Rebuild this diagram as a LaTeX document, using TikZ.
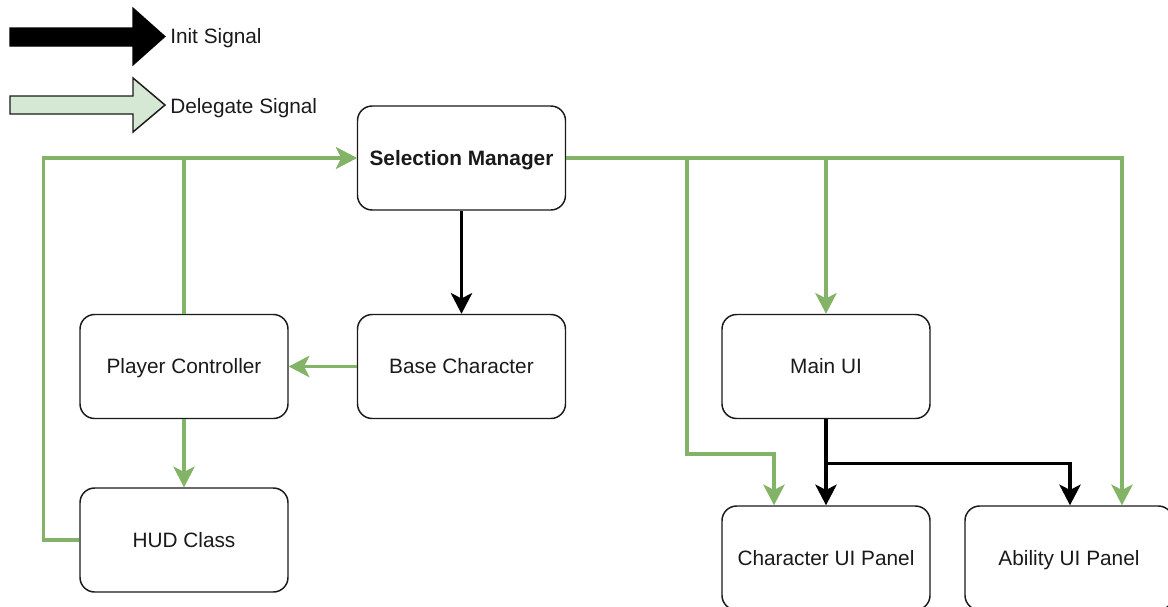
\documentclass[tikz,border=0pt]{standalone}
\usepackage{fontspec}
\setmainfont{Liberation Sans}
\usetikzlibrary{arrows.meta,calc}
\definecolor{delegate}{HTML}{82B366}
\definecolor{delegatefill}{HTML}{D5E8D4}
\definecolor{ink}{HTML}{1A1A1A}
\tikzset{
  block/.style={draw=ink, line width=1.1pt, rounded corners=11pt, fill=white,
    minimum width=156pt, minimum height=78pt, inner sep=0pt, text=ink,
    text height=11.2pt, text depth=0.3pt,
    font=\fontsize{15.6}{18}\selectfont},
  tip/.style={-{Stealth[length=15.5pt, width=16pt, inset=4pt]}},
  delegateline/.style={draw=delegate, line width=2.5pt},
  initline/.style={draw=black, line width=2.4pt},
  legendlabel/.style={anchor=west, inner sep=0pt, text=ink,
    text height=11.2pt, text depth=0.3pt,
    font=\fontsize{15.6}{18}\selectfont}
}
\begin{document}
\begin{tikzpicture}[x=0.75pt, y=-0.75pt]
\useasboundingbox (0,0) rectangle (1168,607);
\clip (0,0) rectangle (1168,607);

% legend
\draw[fill=black, draw=black, line width=0.8pt]
  (10,28) -- (133,28) -- (133,8) -- (165,36.5) -- (133,65) -- (133,46) -- (10,46) -- cycle;
\node[legendlabel] (initlbl) at (170,36) {Init Signal};
\draw[fill=delegatefill, draw=ink, line width=1.1pt]
  (10,96) -- (133,96) -- (133,78) -- (165,105) -- (133,132) -- (133,114) -- (10,114) -- cycle;
\node[legendlabel] (dellbl) at (170,106) {Delegate Signal};

% components
\node[block, font=\fontsize{15.6}{18}\selectfont\bfseries] (sm) at (461.5,158) {Selection Manager};
\node[block] (bc) at (461.5,366.5) {Base Character};
\node[block] (pc) at (184,366.5) {Player Controller};
\node[block] (hud) at (184,540) {HUD Class};
\node[block] (mu) at (826,366.5) {Main UI};
\node[block] (cp) at (826,558) {Character UI Panel};
\node[block] (ap) at (1069,558) {Ability UI Panel};

% delegate signals
\draw[delegateline, tip] (hud.west) -- ++(-36,0) |- (sm.west);
\draw[delegateline, tip] (pc.north) |- (sm.west);
\draw[delegateline, tip] (bc.west) -- (pc.east);
\draw[delegateline, tip] (pc.south) -- (hud.north);
\draw[delegateline, tip] (sm.east) -| (mu.north);
\draw[delegateline, tip] (sm.east) -| ($(ap.north)+(53,0)$);
\draw[delegateline, tip] (sm.east) -| (687,454) -| ($(cp.north)+(-52,0)$);

% init signals
\draw[initline, tip] (sm.south) -- (bc.north);
\draw[initline, tip] (mu.south) -- (cp.north);
\draw[initline, tip] (mu.south) -- ++(0,44) -| ($(ap.north)+(1,0)$);
\end{tikzpicture}
\end{document}
